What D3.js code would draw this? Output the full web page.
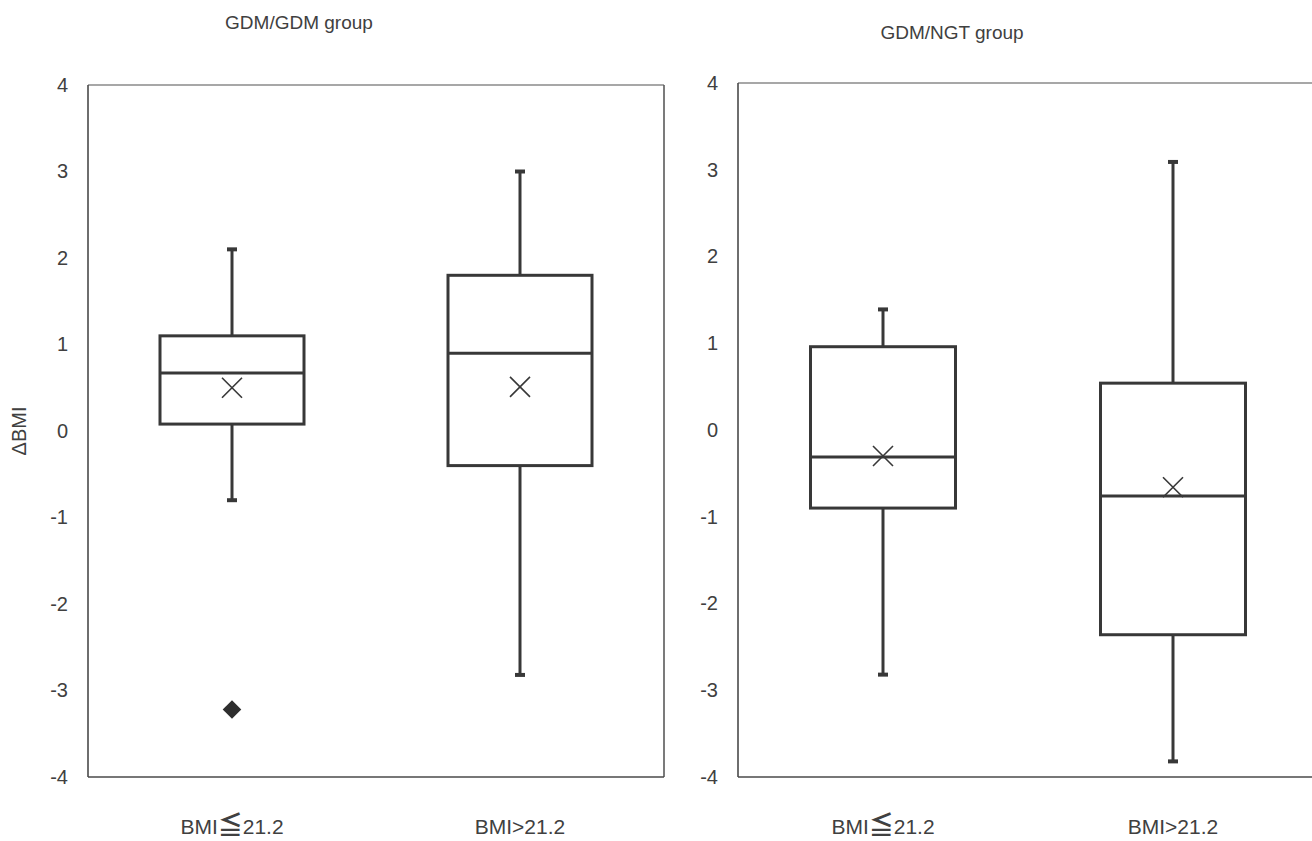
<!DOCTYPE html>
<html lang="en">
  <head>
    <meta charset="UTF-8" />
    <title>ΔBMI box plots</title>
    <script src="https://d3js.org/d3.v7.min.js"></script>
    <style>
      body { margin: 0; background: #fff; }
      text { font-family: "Liberation Sans", Arial, sans-serif; fill: #404040; }
    </style>
  </head>

  <body>
    <svg width="1312" height="841"></svg>

    <script>
      // categories and ticks
      const categories = ["BMI≦21.2", "BMI>21.2"];
      const yTicks = [4, 3, 2, 1, 0, -1, -2, -3, -4];

      // GDM/GDM group
      const gdmGdmLow = [-0.8, -2.82];
      const gdmGdmQ1 = [0.08, -0.4];
      const gdmGdmMedian = [0.67, 0.9];
      const gdmGdmQ3 = [1.1, 1.8];
      const gdmGdmHigh = [2.1, 3.0];
      const gdmGdmMean = [0.5, 0.51];
      const gdmGdmOutliers = [[-3.22], []];

      // GDM/NGT group
      const gdmNgtLow = [-2.82, -3.82];
      const gdmNgtQ1 = [-0.9, -2.36];
      const gdmNgtMedian = [-0.31, -0.76];
      const gdmNgtQ3 = [0.96, 0.54];
      const gdmNgtHigh = [1.39, 3.09];
      const gdmNgtMean = [-0.3, -0.66];
      const gdmNgtOutliers = [[], []];

      let svg = d3.select("svg");

      function buildStats(low, q1, med, q3, high, mean, out) {
        return categories.map(function (c, i) {
          return { cat: c, low: low[i], q1: q1[i], median: med[i], q3: q3[i], high: high[i], mean: mean[i], outliers: out[i] };
        });
      }

      const panels = [
        {
          title: "GDM/GDM group", titleX: 299, titleY: 29,
          left: 88, right: 664, top: 85, bottom: 777, yLabel: "ΔBMI",
          stats: buildStats(gdmGdmLow, gdmGdmQ1, gdmGdmMedian, gdmGdmQ3, gdmGdmHigh, gdmGdmMean, gdmGdmOutliers)
        },
        {
          title: "GDM/NGT group", titleX: 952, titleY: 39,
          left: 738, right: 1318, top: 83, bottom: 777, yLabel: null,
          stats: buildStats(gdmNgtLow, gdmNgtQ1, gdmNgtMedian, gdmNgtQ3, gdmNgtHigh, gdmNgtMean, gdmNgtOutliers)
        }
      ];

      const ink = "#383838";

      panels.forEach(function (p) {
        let g = svg.append("g");

        let x = d3.scaleBand().domain(categories).range([p.left, p.right]);
        let y = d3.scaleLinear().domain([-4, 4]).range([p.bottom, p.top]);
        let bw = x.bandwidth() * 0.5;

        // frame
        g.append("line").attr("x1", p.left).attr("x2", p.right).attr("y1", p.top).attr("y2", p.top)
          .attr("stroke", "#8a8a8a").attr("stroke-width", 1.6);
        g.append("line").attr("x1", p.right).attr("x2", p.right).attr("y1", p.top).attr("y2", p.bottom)
          .attr("stroke", "#5a5a5a").attr("stroke-width", 1.6);
        g.append("line").attr("x1", p.left).attr("x2", p.left).attr("y1", p.top).attr("y2", p.bottom)
          .attr("stroke", "#4a4a4a").attr("stroke-width", 1.6);
        g.append("line").attr("x1", p.left).attr("x2", p.right).attr("y1", p.bottom).attr("y2", p.bottom)
          .attr("stroke", "#4a4a4a").attr("stroke-width", 1.6);

        // y axis labels
        let yAxis = g.append("g")
          .attr("transform", "translate(" + p.left + ",0)")
          .call(d3.axisLeft(y).tickValues(yTicks).tickSize(0).tickPadding(20)
            .tickFormat(function (d) { return String(d); }));
        yAxis.select(".domain").remove();
        yAxis.selectAll("text").attr("font-size", 20).attr("fill", "#404040")
          .style("font-family", "'Liberation Sans', Arial, sans-serif");

        // title
        g.append("text").attr("x", p.titleX).attr("y", p.titleY)
          .attr("text-anchor", "middle").attr("font-size", 19).text(p.title);

        if (p.yLabel) {
          g.append("text")
            .attr("transform", "translate(26," + (p.top + p.bottom) / 2 + ") rotate(-90)")
            .attr("text-anchor", "middle").attr("font-size", 20).text(p.yLabel);
        }

        // x category labels
        categories.forEach(function (c) {
          let t = g.append("text")
            .attr("x", x(c) + x.bandwidth() / 2)
            .attr("y", 834)
            .attr("text-anchor", "middle")
            .attr("font-size", 21);
          if (c.indexOf("≦") >= 0) {
            let parts = c.split("≦");
            t.append("tspan").text(parts[0]);
            t.append("tspan").attr("font-size", 25).attr("font-weight", "bold")
              .style("font-family", "'Noto Sans CJK JP', sans-serif").text("≦");
            t.append("tspan").text(parts[1]);
          } else {
            t.text(c);
          }
        });

        // boxes
        let box = g.selectAll("g.box").data(p.stats).enter().append("g").attr("class", "box");

        box.append("line")
          .attr("x1", function (d) { return x(d.cat) + x.bandwidth() / 2; })
          .attr("x2", function (d) { return x(d.cat) + x.bandwidth() / 2; })
          .attr("y1", function (d) { return y(d.high); })
          .attr("y2", function (d) { return y(d.q3); })
          .attr("stroke", ink).attr("stroke-width", 3);
        box.append("line")
          .attr("x1", function (d) { return x(d.cat) + x.bandwidth() / 2; })
          .attr("x2", function (d) { return x(d.cat) + x.bandwidth() / 2; })
          .attr("y1", function (d) { return y(d.q1); })
          .attr("y2", function (d) { return y(d.low); })
          .attr("stroke", ink).attr("stroke-width", 3);

        // whisker caps
        ["high", "low"].forEach(function (k) {
          box.append("line")
            .attr("x1", function (d) { return x(d.cat) + x.bandwidth() / 2 - 5; })
            .attr("x2", function (d) { return x(d.cat) + x.bandwidth() / 2 + 5; })
            .attr("y1", function (d) { return y(d[k]); })
            .attr("y2", function (d) { return y(d[k]); })
            .attr("stroke", ink).attr("stroke-width", 4);
        });

        box.append("rect")
          .attr("x", function (d) { return x(d.cat) + x.bandwidth() / 2 - bw / 2; })
          .attr("width", bw)
          .attr("y", function (d) { return y(d.q3); })
          .attr("height", function (d) { return y(d.q1) - y(d.q3); })
          .attr("fill", "none").attr("stroke", ink).attr("stroke-width", 3);

        box.append("line")
          .attr("x1", function (d) { return x(d.cat) + x.bandwidth() / 2 - bw / 2; })
          .attr("x2", function (d) { return x(d.cat) + x.bandwidth() / 2 + bw / 2; })
          .attr("y1", function (d) { return y(d.median); })
          .attr("y2", function (d) { return y(d.median); })
          .attr("stroke", ink).attr("stroke-width", 3);

        // mean marker (x)
        box.append("path")
          .attr("d", function (d) {
            let cx = x(d.cat) + x.bandwidth() / 2, cy = y(d.mean), s = 10;
            return "M" + (cx - s) + "," + (cy - s) + "L" + (cx + s) + "," + (cy + s) +
              "M" + (cx - s) + "," + (cy + s) + "L" + (cx + s) + "," + (cy - s);
          })
          .attr("stroke", ink).attr("stroke-width", 1.6).attr("fill", "none");

        // outliers
        box.selectAll("path.out")
          .data(function (d) { return d.outliers.map(function (v) { return { cat: d.cat, v: v }; }); })
          .enter().append("path")
          .attr("class", "out")
          .attr("d", d3.symbol().type(d3.symbolDiamond2).size(220))
          .attr("transform", function (d) { return "translate(" + (x(d.cat) + x.bandwidth() / 2) + "," + y(d.v) + ")"; })
          .attr("fill", "#2e2e2e");
      });
    </script>
  </body>
</html>
